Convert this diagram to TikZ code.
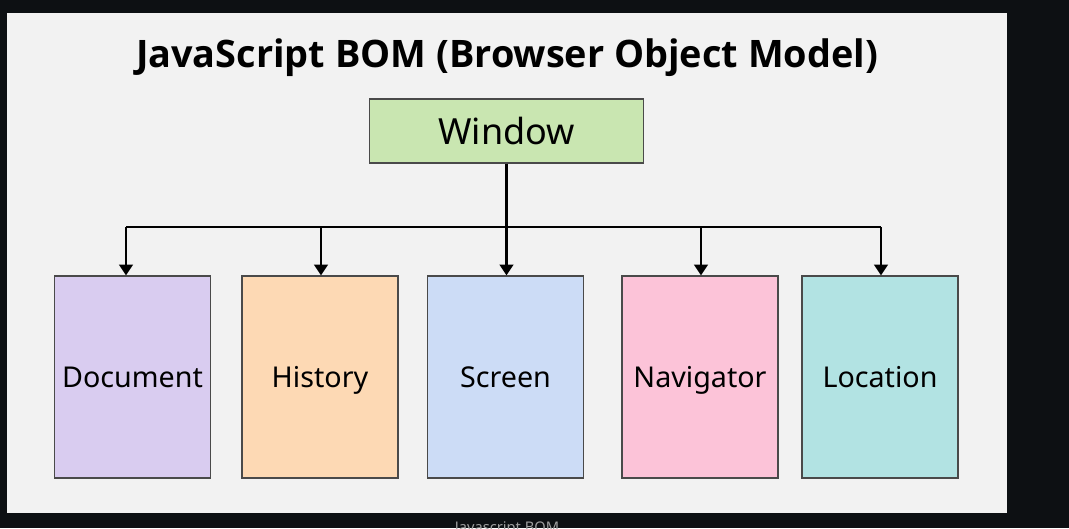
\documentclass[tikz,border=0pt]{standalone}
\usepackage{fontspec}
\setmainfont{Noto Sans}
\newfontfamily\headfont{Open Sans}
\usetikzlibrary{arrows.meta}

\definecolor{pagebg}{HTML}{0D1013}
\definecolor{panelbg}{HTML}{F2F2F2}
\definecolor{edgegray}{HTML}{4A4A4A}
\definecolor{wingreen}{HTML}{C9E6B1}
\definecolor{doclilac}{HTML}{D9CCF0}
\definecolor{histpeach}{HTML}{FDD9B4}
\definecolor{scrblue}{HTML}{CCDCF6}
\definecolor{navpink}{HTML}{FCC3D8}
\definecolor{loccyan}{HTML}{B2E3E3}

\tikzset{
  objbox/.style={draw=edgegray,line width=.9pt,minimum width=117pt,minimum height=151.5pt,inner sep=0pt,text height=19pt,text depth=3pt,font=\fontsize{21.5}{25}\selectfont},
  busline/.style={line width=1.9pt,black},
  busarrow/.style={busline,-{Triangle[width=10pt,length=8pt]}}
}

\begin{document}
\begin{tikzpicture}[x=.75pt,y=-.75pt]
\path[use as bounding box,fill=pagebg] (0,0) rectangle (1069,528);
\fill[panelbg] (7,13) rectangle (1007,513);
\node[font=\headfont\bfseries\fontsize{28.4}{34}\selectfont] (title) at (507,58) {JavaScript BOM (Browser Object Model)};
\node[draw=edgegray,fill=wingreen,line width=.9pt,minimum width=205pt,minimum height=48pt,inner sep=0pt,font=\fontsize{27}{31}\selectfont] (window) at (506.5,131) {Window};
\node[objbox,fill=doclilac] (document) at (132.5,377) {Document};
\node[objbox,fill=histpeach] (history) at (320,377) {History};
\node[objbox,fill=scrblue] (screen) at (505.5,377) {Screen};
\node[objbox,fill=navpink] (navigator) at (700,377) {Navigator};
\node[objbox,fill=loccyan] (location) at (880,377) {Location};
% bus points above the five boxes
\coordinate (bdoc) at (126,227);
\coordinate (bhist) at (321,227);
\coordinate (bnav) at (701,227);
\coordinate (bloc) at (881,227);
\draw[busline] (bdoc) -- (bloc);
\draw[busarrow] (window.south) -- (window.south |- screen.north);
\foreach \b/\t in {bdoc/document,bhist/history,bnav/navigator,bloc/location}
  \draw[busarrow] (\b) -- (\b |- \t.north);
\node[anchor=north,text=gray!75,font=\fontsize{11}{13}\selectfont] (caption) at (507,517) {Javascript BOM};
\end{tikzpicture}
\end{document}
